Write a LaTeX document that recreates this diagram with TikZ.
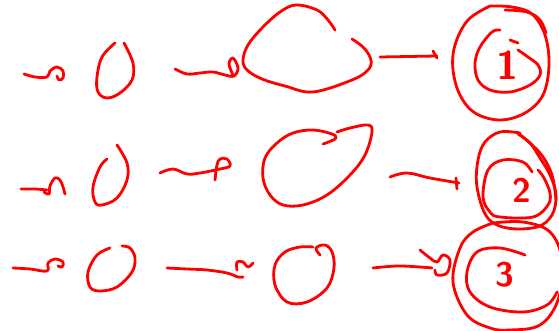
\documentclass[tikz,border=0pt]{standalone}
\begin{document}
\begin{tikzpicture}[x=1pt,y=-1pt,
  pen/.style={draw=red, line width=2.8pt, line cap=round, line join=round},
  digit/.style={text=red, inner sep=0pt, font=\sffamily\bfseries\fontsize{#1}{#1}\selectfont},
  sm/.style={smooth, tension=0.6}]
\useasboundingbox (0,0) rectangle (559,331);

% ---------------- named points ----------------
\coordinate (a1s) at (24,74);   \coordinate (a1e) at (47,77);
\coordinate (a2s) at (175,69);  \coordinate (a2e) at (234,76);
\coordinate (a3s) at (380,57);  \coordinate (a3e) at (437,56);
\coordinate (a4s) at (21,189);  \coordinate (a4e) at (47,190);
\coordinate (a5s) at (160,173); \coordinate (a5e) at (230,166);
\coordinate (a6s) at (390,177); \coordinate (a6e) at (459,183);
\coordinate (a7s) at (13,268);  \coordinate (a7e) at (47,271);
\coordinate (a8s) at (167,268); \coordinate (a8e) at (243,277);
\coordinate (a9s) at (373,268); \coordinate (a9e) at (432,268);

% ================= Row 1 =================
% arrow 1
\draw[pen] plot[sm] coordinates {(a1s) (35,77) (a1e) (50,71) (57,67) (63,71) (63,78) (59,80) (57,76)};
% ellipse 0
\draw[pen] plot[sm] coordinates {(124,43) (133,63) (132,80) (120,93) (107,98) (98,92) (97,77) (102,57) (115,43)};
% arrow 2
\draw[pen] plot[sm] coordinates {(a2s) (187,74) (200,73) (213,72) (225,75) (a2e) (238,68) (233,58) (229,64) (233,75)};
% blob 1
\draw[pen] plot[sm] coordinates {(352,39) (364,48) (371,60) (368,70) (352,80) (313,92) (285,86) (262,79) (247,70) (243,60) (248,45) (262,28) (280,12) (296,5) (317,10) (328,20) (335,30)};
% arrow 3
\draw[pen] (a3s) -- (a3e);
\draw[pen] (433,51) -- (437,58);
% circle 1
\draw[pen] plot[sm] coordinates {(490,6) (468,20) (455,45) (453,70) (460,95) (475,113) (500,120) (525,113) (543,95) (549,65) (545,35) (532,14) (512,7) (490,6)};
\draw[pen] plot[sm] coordinates {(505,10) (527,12) (540,20) (546,33)};
\draw[pen] plot[sm] coordinates {(500,30) (492,32) (480,47) (475,63) (478,80) (490,90) (510,92) (530,85) (540,75) (538,65) (528,57) (518,50)};
\draw[pen] (510,40) -- (518,43);
\node[digit=40] (d1) at (507,65) {1};

% ================= Row 2 =================
% arrow 4
\draw[pen] plot[sm] coordinates {(a4s) (35,189) (a4e)};
\draw[pen] plot[sm] coordinates {(44,192) (49,194) (50,186) (55,178) (60,180) (63,187) (65,194)};
% ellipse 0
\draw[pen] plot[sm] coordinates {(107,159) (100,167) (93,187) (95,202) (102,205) (117,198) (127,180) (127,163) (117,145)};
% arrow 5
\draw[pen] plot[sm] coordinates {(a5s) (173,169) (187,174) (200,173) (220,169) (a5e) (227,159) (220,159) (217,165) (215,180)};
% blob 2
\draw[pen] plot[sm] coordinates {(323,144) (331,141) (336,138) (332,134) (313,130) (293,133) (277,143) (265,158) (263,178) (270,195) (283,205) (303,205) (327,195) (350,175) (365,155) (372,132) (368,125) (350,128) (337,132)};
% arrow 6
\draw[pen] plot[sm] coordinates {(a6s) (407,173) (430,178) (a6e)};
\draw[pen] (456,178) -- (457,189);
% circle 2
\draw[pen] plot[sm] coordinates {(520,133) (500,132) (485,142) (478,160) (477,187) (487,217) (507,228) (537,227) (552,215) (556,195) (550,175) (540,158) (530,143) (518,134)};
\draw[pen] plot[sm] coordinates {(518,133) (540,153) (552,175) (556,200)};
\draw[pen] plot[sm] coordinates {(532,172) (523,162) (503,160) (488,170) (483,197) (490,212) (500,217) (533,217) (548,205) (550,193) (544,178) (538,170)};
\node[digit=34] (d2) at (522,190) {2};

% ================= Row 3 =================
% arrow 7
\draw[pen] plot[sm] coordinates {(a7s) (30,269) (a7e) (48,263) (55,259) (63,262) (62,267) (58,266)};
% ellipse 0
\draw[pen] plot[sm] coordinates {(110,248) (97,255) (88,272) (90,287) (100,291) (117,287) (132,272) (135,258) (130,248) (122,246)};
% arrow 8
\draw[pen] plot[sm] coordinates {(a8s) (187,269) (207,270) (227,273) (238,277) (a8e)};
\draw[pen] plot[sm] coordinates {(237,270) (237,262) (243,262) (248,267) (253,263)};
% blob 3
\draw[pen] plot[sm] coordinates {(320,255) (316,248) (325,245) (332,252) (334,268) (327,288) (307,302) (287,302) (275,285) (275,265) (285,252) (300,247) (313,247)};
% arrow 9
\draw[pen] plot[sm] coordinates {(a9s) (397,266) (420,267) (a9e)};
\draw[pen] plot[sm] coordinates {(420,250) (430,258) (437,262) (443,255) (450,260) (447,273) (437,275) (435,270)};
% circle 3
\draw[pen] plot[sm] coordinates {(493,223) (473,232) (460,248) (453,282) (467,315) (490,328) (510,330) (540,325) (558,300) (562,260) (550,232) (523,222) (493,223)};
\draw[pen] plot[sm] coordinates {(525,255) (500,248) (477,252) (467,272) (470,292) (490,307) (523,312) (547,305) (557,292)};
\node[digit=34] (d3) at (505,275) {3};
\end{tikzpicture}
\end{document}
